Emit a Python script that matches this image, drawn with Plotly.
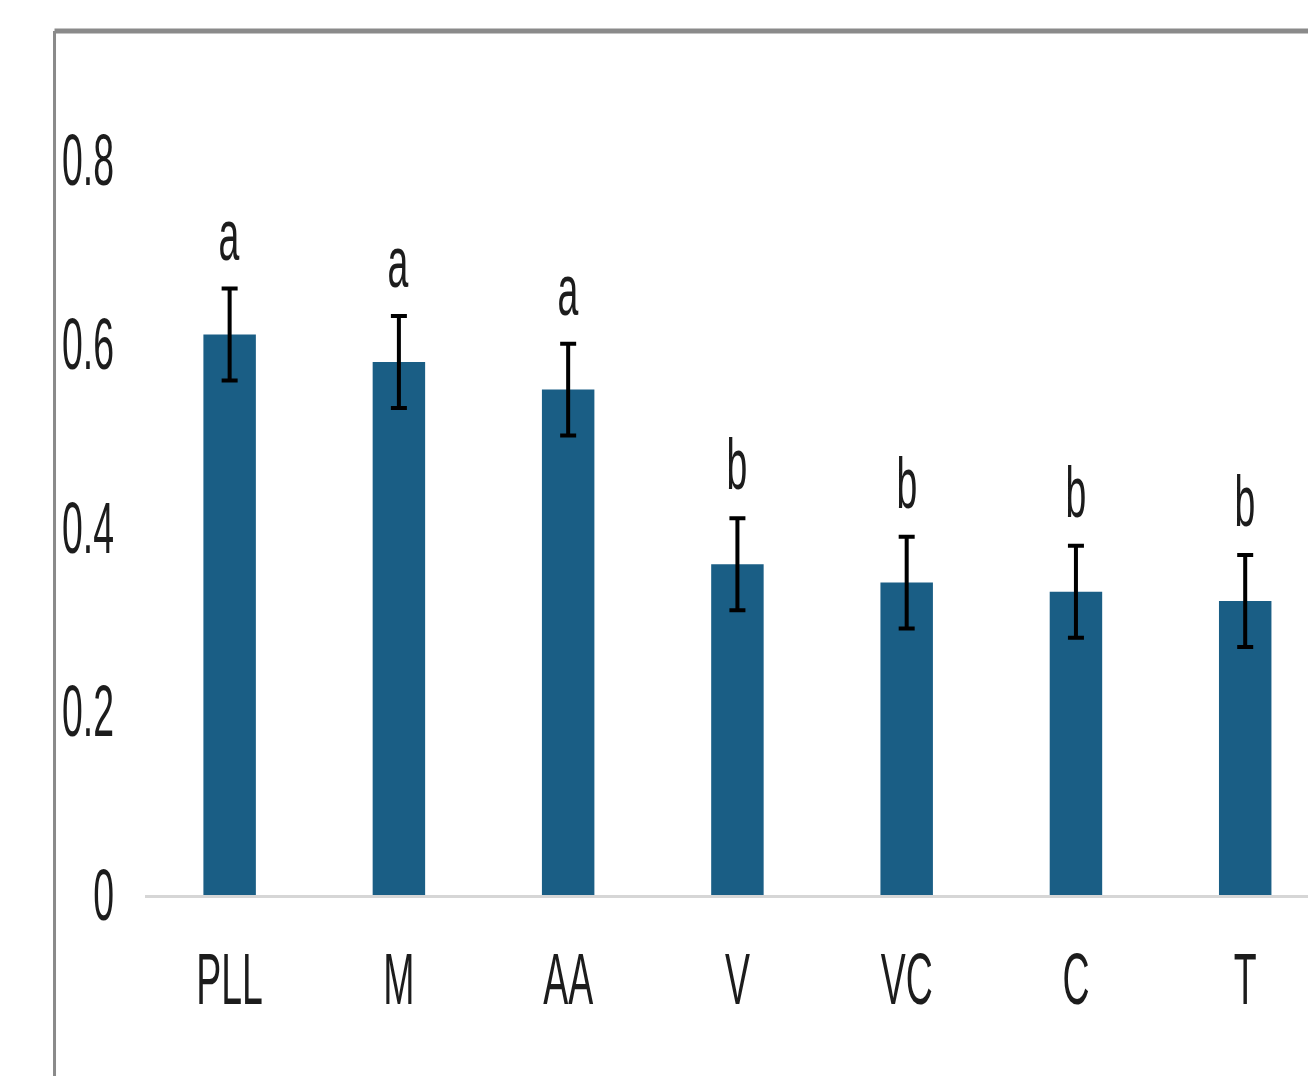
import plotly.graph_objects as go

# Treatment groups and measured means with error margins
treatments = ["PLL", "M", "AA", "V", "VC", "C", "T"]
means = [0.61, 0.58, 0.55, 0.36, 0.34, 0.33, 0.32]
errors = [0.05, 0.05, 0.05, 0.05, 0.05, 0.05, 0.05]
groups = ["a", "a", "a", "b", "b", "b", "b"]

yticks = [0, 0.2, 0.4, 0.6, 0.8]

BAR_COLOR = "#1a5e85"
TEXT_COLOR = "#1c1c1c"
FONT = "Liberation Sans, Arial, sans-serif"
TEXT_SIZE = 72

fig = go.Figure()
fig.add_trace(go.Bar(
    x=treatments,
    y=means,
    width=0.31,
    marker=dict(color=BAR_COLOR, line=dict(width=0)),
    error_y=dict(type="data", array=errors, visible=True,
                 color="#000000", thickness=4, width=8),
    showlegend=False,
))

# Significance letters above each error bar
for t, m, e, g in zip(treatments, means, errors, groups):
    fig.add_annotation(x=t, y=m + e, text=g, showarrow=False,
                       yanchor="bottom", yshift=12,
                       font=dict(family=FONT, size=TEXT_SIZE, color=TEXT_COLOR))

# Outer frame lines (top and left)
fig.add_shape(type="line", xref="paper", yref="paper",
              x0=-0.0778, x1=1.1, y0=1.0447, y1=1.0447,
              line=dict(color="#8a8a8a", width=5))
fig.add_shape(type="line", xref="paper", yref="paper",
              x0=-0.0778, x1=-0.0778, y0=1.0447, y1=-0.4,
              line=dict(color="#8a8a8a", width=3))

fig.update_layout(
    width=1308, height=1076,
    margin=dict(l=145, r=0, t=68, b=181),
    paper_bgcolor="white", plot_bgcolor="white",
    font=dict(family=FONT, size=TEXT_SIZE, color=TEXT_COLOR),
    xaxis=dict(
        range=[-0.5, 6.371],
        showline=True, linecolor="#d6d6d6", linewidth=3,
        showgrid=False, zeroline=False, ticks="",
        tickfont=dict(family=FONT, size=TEXT_SIZE, color=TEXT_COLOR),
        ticklabelstandoff=20,
    ),
    yaxis=dict(
        range=[0, 0.9],
        tickvals=yticks,
        ticktext=[("0" if v == 0 else f"{v:.1f}") for v in yticks],
        showline=False, showgrid=False, zeroline=False, ticks="",
        tickfont=dict(family=FONT, size=TEXT_SIZE, color=TEXT_COLOR),
        ticklabelstandoff=30,
    ),
)

# Narrow, tall lettering: compress every label horizontally
squeeze_js = """
var gd = document.getElementById('{plot_id}');
function narrowText() {
  gd.querySelectorAll('.xtick text, .ytick text, .annotation-text').forEach(function (t) {
    var w = t.getComputedTextLength();
    if (w > 0) {
      t.setAttribute('textLength', (w * 0.52).toFixed(1));
      t.setAttribute('lengthAdjust', 'spacingAndGlyphs');
    }
  });
}
narrowText();
"""

fig.write_html("out.html", post_script=squeeze_js)
